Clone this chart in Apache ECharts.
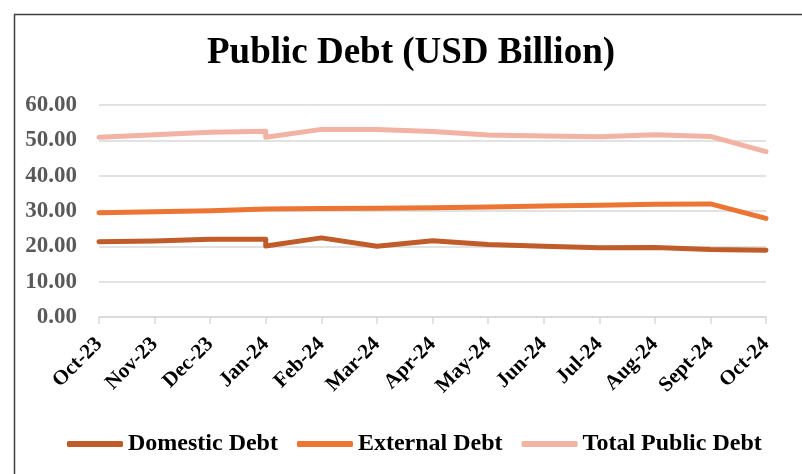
<!DOCTYPE html>
<html><head><meta charset="utf-8">
<script src="https://cdn.jsdelivr.net/npm/echarts@6/dist/echarts.min.js"></script>
<style>html,body{margin:0;padding:0;background:#fff}#c{width:802px;height:474px}</style>
</head><body><div id="c"></div>
<script>
const categories = ["Oct-23","Nov-23","Dec-23","Jan-24","Feb-24","Mar-24","Apr-24","May-24","Jun-24","Jul-24","Aug-24","Sept-24","Oct-24"];
// Observation periods (Jan-24 reported twice, producing a step at that month)
const periods = ["Oct-23","Nov-23","Dec-23","Jan-24","Jan-24","Feb-24","Mar-24","Apr-24","May-24","Jun-24","Jul-24","Aug-24","Sept-24","Oct-24"];
const domestic = [21.3, 21.5, 22.0, 22.0, 20.1, 22.4, 20.0, 21.6, 20.5, 20.0, 19.6, 19.7, 19.1, 18.9];
const external = [29.5, 29.8, 30.1, 30.6, 31.0, 30.7, 30.8, 30.9, 31.1, 31.4, 31.6, 31.9, 32.0, 27.9];
const total = [50.9, 51.6, 52.3, 52.6, 50.9, 53.1, 53.1, 52.5, 51.5, 51.2, 51.0, 51.6, 51.1, 46.8];
const yTicks = [0, 10, 20, 30, 40, 50, 60];

const toPairs = vals => vals.map((v, i) => [categories.indexOf(periods[i]), v]);
const FONT = '"Liberation Serif","Times New Roman",serif';

const chart = echarts.init(document.getElementById('c'), null, {renderer: 'canvas'});
const mk = (name, vals, color) => ({
  name, type: 'line', data: toPairs(vals), showSymbol: false, symbol: 'none',
  lineStyle: {color, width: 5, cap: 'round', join: 'round'}, itemStyle: {color},
  animation: false
});
chart.setOption({
  animation: false,
  graphic: [{type: 'rect', left: 12, top: 12, shape: {width: 800, height: 470},
    style: {fill: 'none', stroke: '#404040', lineWidth: 1.5}, silent: true}],
  title: {text: 'Public Debt (USD Billion)', left: 411, textAlign: 'center', top: 35, padding: 0,
    textStyle: {fontFamily: FONT, fontWeight: 'bold', fontSize: 37, color: '#000'}},
  legend: {top: 432, left: 67, padding: 0, itemWidth: 56, itemHeight: 6, itemGap: 19,
    icon: 'roundRect',
    textStyle: {fontFamily: FONT, fontWeight: 'bold', fontSize: 24, color: '#000'}},
  grid: {left: 99, right: 36, top: 105, bottom: 157, containLabel: false},
  xAxis: {type: 'value', min: 0, max: categories.length - 1, interval: 1,
    axisLine: {show: true, lineStyle: {color: '#d9d9d9', width: 1.5}},
    axisTick: {show: true, length: 7, lineStyle: {color: '#d9d9d9', width: 1.5}},
    splitLine: {show: false},
    axisLabel: {rotate: 45, margin: 24, formatter: v => categories[v] || '',
      fontFamily: FONT, fontWeight: 'bold', fontSize: 21, color: '#000'}},
  yAxis: {type: 'value', min: yTicks[0], max: yTicks[yTicks.length-1], interval: 10,
    axisLine: {show: false}, axisTick: {show: false},
    splitLine: {lineStyle: {color: '#d9d9d9', width: 1.5}},
    axisLabel: {formatter: v => v.toFixed(2), margin: 22,
      fontFamily: FONT, fontWeight: 'bold', fontSize: 23, color: '#595959'}},
  series: [
    mk('Domestic Debt', domestic, '#C05B2A'),
    mk('External Debt', external, '#EC7533'),
    mk('Total Public Debt', total, '#F2B3A4')
  ]
});
</script></body></html>
